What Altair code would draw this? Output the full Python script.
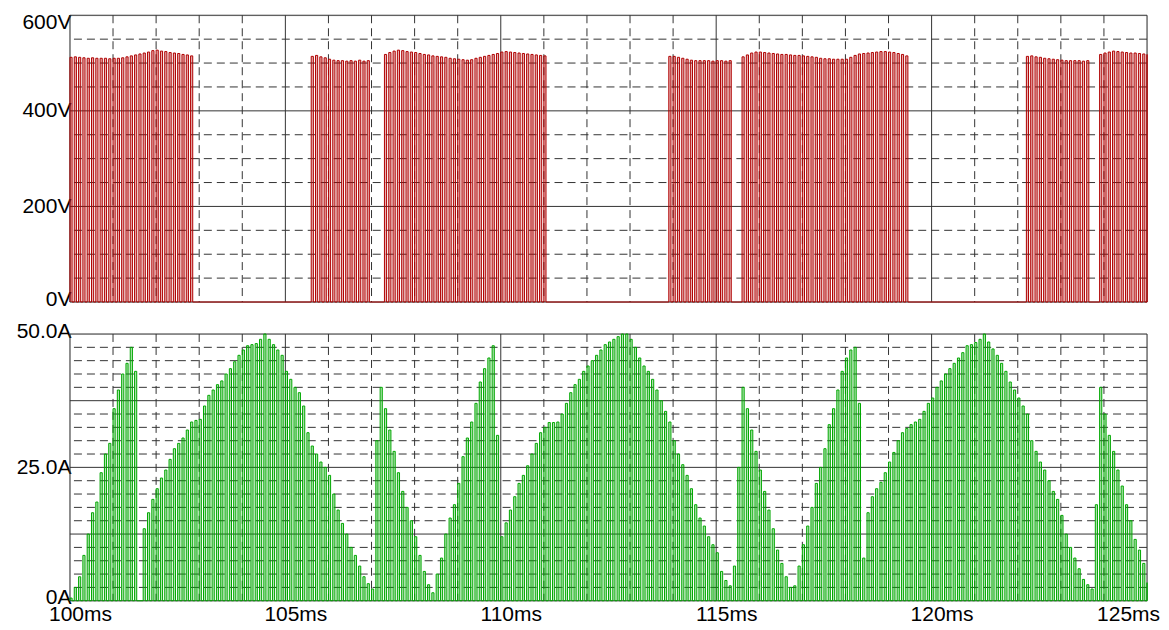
import altair as alt
import pandas as pd

# ---------------- axis / grid values ----------------
T_DOMAIN = [100.0, 125.0]
t_major = [100, 105, 110, 115, 120, 125]
t_minor = [101, 102, 103, 104, 106, 107, 108, 109, 111, 112, 113, 114,
           116, 117, 118, 119, 121, 122, 123, 124]
v_major = [0, 200, 400, 600]
v_minor = [50, 100, 150, 250, 300, 350, 450, 500, 550]
i_major = [0, 12.5, 25, 37.5, 50]
i_labels = [0, 25, 50]
i_minor = [2.5, 5, 7.5, 10, 15, 17.5, 20, 22.5, 27.5, 30, 32.5, 35,
           40, 42.5, 45, 47.5]

PWM_PERIOD = 0.1   # ms between switching pulses
V_ON_WIDTH = 0.05  # ms
I_ON_WIDTH = 0.05  # ms

# ---------------- voltage: bursts of PWM pulses (peak V of each pulse) ----------------
v_burst_start = [100.0, 105.6, 107.3, 113.9, 115.6, 122.2, 123.9]
v_burst1 = [512, 513, 512, 511, 510, 511, 510, 510, 510, 509, 510, 510, 511, 513, 515,
            517, 519, 521, 523, 526, 527, 525, 524, 522, 521, 520, 518, 517, 515]
v_burst2 = [514, 516, 513, 511, 508, 506, 505, 505, 504, 505, 504, 506, 504, 505]
v_burst3 = [518, 522, 525, 527, 526, 524, 523, 522, 520, 518, 517, 515, 514, 513, 512,
            510, 509, 508, 507, 506, 507, 510, 512, 514, 516, 518, 520, 523, 524, 523,
            522, 521, 520, 519, 518, 517, 516, 515]
v_burst4 = [514, 514, 512, 510, 508, 506, 505, 505, 505, 505, 504, 505, 505, 504, 505]
v_burst5 = [513, 517, 521, 523, 523, 522, 521, 520, 519, 518, 518, 517, 516, 516, 515,
            514, 513, 512, 510, 509, 509, 508, 508, 508, 508, 512, 516, 519, 520, 521,
            522, 523, 524, 524, 523, 522, 520, 518, 515]
v_burst6 = [514, 515, 513, 512, 510, 509, 508, 507, 506, 505, 505, 505, 505, 504, 505]
v_burst7 = [518, 521, 523, 525, 524, 523, 522, 521, 521, 520, 519, 518]
v_bursts = [v_burst1, v_burst2, v_burst3, v_burst4, v_burst5, v_burst6, v_burst7]

# ---------------- current: peak of each switching pulse, one list per 5 ms ----------------
i_100_105 = [0.5, 2.5, 4.5, 8.5, 12.5, 16.5, 18.5, 24, 27.5, 29.5,
             36, 39.5, 42.5, 44.5, 47.5, 43, 0, 13.5, 16.5, 19,
             21, 23, 24.5, 26.5, 28.5, 29.5, 30.5, 32, 33.5, 33.8,
             34, 36.5, 38.5, 39.5, 40.5, 41.2, 42.5, 43.5, 44.8, 46,
             47, 47.8, 48, 48.2, 49, 50, 49, 48, 47, 46]
i_105_110 = [43, 41.5, 40, 39, 36.5, 31.5, 29, 27.5, 26, 25,
             23.5, 20, 17, 14.5, 12.5, 10, 8.5, 6.5, 4.5, 3.2,
             2.2, 30, 40, 36, 32, 28, 24, 20.5, 17.5, 15,
             12, 8.5, 5.5, 3, 1.5, 5, 8, 12.5, 15.5, 18,
             22, 27, 30.5, 33.5, 37, 41, 43.5, 45.5, 47.8, 31]
i_110_115 = [12, 14.6, 17, 19.5, 22, 23.5, 25.3, 27.5, 29.5, 31.5,
             32.5, 33.4, 33.4, 33.5, 35, 37, 39, 40.5, 41.5, 43,
             44, 45, 46, 47, 48, 48.5, 49, 49.5, 50, 50,
             49, 47.5, 45.5, 44, 43, 41.5, 39.5, 37.5, 35.5, 33.5,
             30, 27.5, 25.5, 23.5, 21, 18, 15.5, 14, 12, 10.5]
i_115_120 = [9, 5.5, 3.8, 2.8, 6.5, 25, 40, 36, 32, 28,
             24.5, 20.5, 17, 13.5, 9.5, 7, 4.5, 2.5, 2.8, 6.5,
             10.5, 14, 17.5, 22, 25, 28.5, 33, 36, 39.5, 43,
             45.5, 47, 47.5, 37, 8, 16.5, 19.5, 21, 22.2, 24,
             26, 27.8, 30, 31.5, 32.3, 33, 33.5, 34, 35.5, 37]
i_120_125 = [38, 40, 41.2, 42.5, 43.5, 44.5, 45.5, 46.5, 47.8, 48,
             48.4, 49, 50, 48.5, 47.2, 46, 44.5, 43, 41, 39.5,
             38, 36.5, 35, 30, 28, 26, 24.5, 22.5, 20.5, 19,
             16, 12.5, 10, 8, 6, 4, 3, 2.2, 18, 40,
             35, 31, 28, 24.5, 21.5, 18, 15, 11.5, 9.5, 7,
             3.4]
i_segments = [i_100_105, i_105_110, i_110_115, i_115_120, i_120_125]
i_seg_start = [100.0, 105.0, 110.0, 115.0, 120.0]


def build(starts, groups, width):
    pts = [(T_DOMAIN[0], 0.0)]
    bars = []
    for t0, levels in zip(starts, groups):
        for n, val in enumerate(levels):
            t = t0 + n * PWM_PERIOD
            t2 = min(t + width, T_DOMAIN[1])
            pts += [(t, 0.0), (t, val), (t2, val), (t2, 0.0)]
            bars.append((t, t2, val))
    pts.append((T_DOMAIN[1], 0.0))
    line_df = pd.DataFrame(pts, columns=["t", "y"])
    line_df["o"] = range(len(line_df))
    bar_df = pd.DataFrame(bars, columns=["t", "t2", "y"])
    return line_df, bar_df


v_line, v_bar = build(v_burst_start, v_bursts, V_ON_WIDTH)
i_line, i_bar = build(i_seg_start, i_segments, I_ON_WIDTH)

FONT = "Liberation Sans"
FS = 21
GRID = "#333333"
DASH = [8, 5]


def panel(line_df, bar_df, y_domain, y_major, y_minor, y_axis, x_axis, color, height):
    xs = alt.Scale(domain=T_DOMAIN, nice=False, zero=False)
    ys = alt.Scale(domain=y_domain, nice=False)
    hmin = alt.Chart(pd.DataFrame({"y": y_minor})).mark_rule(
        color=GRID, strokeWidth=1, strokeDash=DASH).encode(
        y=alt.Y("y:Q", scale=ys, axis=y_axis))
    hmaj = alt.Chart(pd.DataFrame({"y": y_major})).mark_rule(
        color=GRID, strokeWidth=1).encode(
        y=alt.Y("y:Q", scale=ys, axis=y_axis))
    vmin = alt.Chart(pd.DataFrame({"t": t_minor})).mark_rule(
        color=GRID, strokeWidth=1, strokeDash=DASH).encode(
        x=alt.X("t:Q", scale=xs, axis=x_axis))
    vmaj = alt.Chart(pd.DataFrame({"t": t_major})).mark_rule(
        color=GRID, strokeWidth=1).encode(
        x=alt.X("t:Q", scale=xs, axis=x_axis))
    fill = alt.Chart(bar_df).mark_bar(color=color, opacity=0.3, strokeWidth=0).encode(
        x=alt.X("t:Q", scale=xs, axis=x_axis), x2="t2:Q",
        y=alt.Y("y:Q", scale=ys, axis=y_axis), y2=alt.datum(0))
    line = alt.Chart(line_df).mark_line(color=color, strokeWidth=1, interpolate="linear").encode(
        x=alt.X("t:Q", scale=xs, axis=x_axis),
        y=alt.Y("y:Q", scale=ys, axis=y_axis),
        order="o:Q")
    return alt.layer(hmin, vmin, hmaj, vmaj, fill, line).properties(width=1078, height=height)


y_axis_v = alt.Axis(values=v_major, labelExpr="datum.value + 'V'", grid=False, ticks=False,
                    domain=False, labelFont=FONT, labelFontSize=FS, labelColor="#000",
                    labelPadding=-1, minExtent=61, maxExtent=61, title=None,
                    labelOffset={"condition": [{"test": "datum.value == 600", "value": 7},
                                               {"test": "datum.value == 0", "value": -3}],
                                 "value": 0})
y_axis_i = alt.Axis(values=i_labels,
                    labelExpr="datum.value == 0 ? '0A' : format(datum.value, '.1f') + 'A'",
                    grid=False, ticks=False, domain=False, labelFont=FONT, labelFontSize=FS,
                    labelColor="#000", labelPadding=-1, minExtent=61, maxExtent=61, title=None,
                    labelOffset={"condition": [{"test": "datum.value == 50", "value": -2},
                                               {"test": "datum.value == 0", "value": -3}],
                                 "value": 0})
x_axis_bot = alt.Axis(values=t_major, labelExpr="datum.value + 'ms'", grid=False, ticks=False,
                      domain=False, labelFont=FONT, labelFontSize=FS, labelColor="#000",
                      labelPadding=3, title=None, labelFlush=False,
                      labelOffset={"condition": {"test": "datum.value == 125", "value": -19}, "value": 10})

top = panel(v_line, v_bar, [0, 600], v_major, v_minor, y_axis_v, None, "#b00000", 287)
bot = panel(i_line, i_bar, [0, 50], i_major, i_minor, y_axis_i, x_axis_bot, "#00a800", 267)

chart = alt.vconcat(top, bot, spacing=10).properties(
    padding={"left": 0, "top": 2, "right": 0, "bottom": 0}
).configure_view(stroke="#000000", strokeWidth=1).configure(background="white")

chart.save("out.html", embed_options={"renderer": "svg", "actions": False})
